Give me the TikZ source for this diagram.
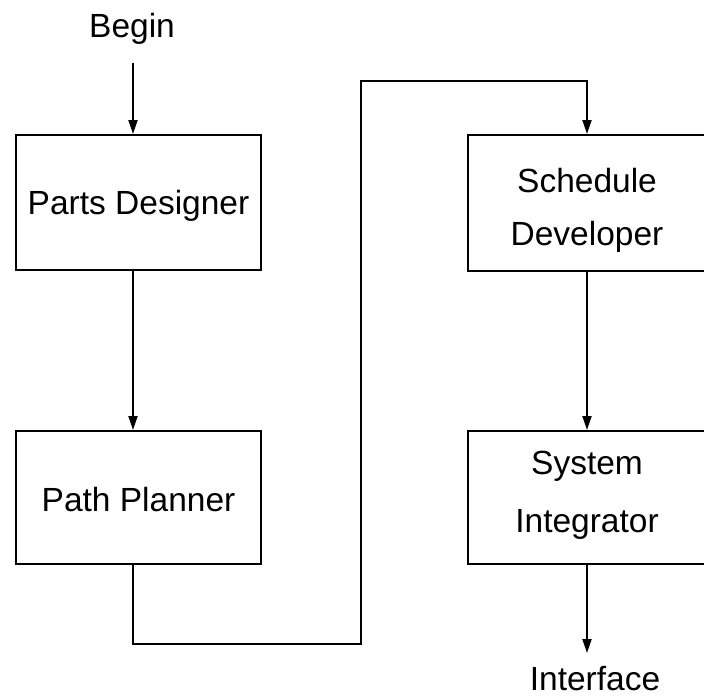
\documentclass[tikz,border=0pt]{standalone}
\usepackage{fontspec}
\setmainfont{Liberation Sans}
\usetikzlibrary{arrows.meta}
\newcommand{\lowr}[2]{\raisebox{#1}[\height][\depth]{#2}}
\begin{document}
\begin{tikzpicture}[x=1pt,y=-1pt,
  font=\fontsize{33.5}{53}\selectfont,
  boxnode/.style={draw,line width=2pt,rectangle,inner sep=0pt},
  conn/.style={line width=2pt},
  arr/.style={conn,-{Triangle[length=14pt,width=9pt]}}]
\useasboundingbox (0,0) rectangle (704,697);
\node[boxnode,minimum width=245pt,minimum height=135pt] (pd) at (138.5,202.5) {\lowr{-3pt}{Parts Designer}};
\node[boxnode,minimum width=245pt,minimum height=133pt] (pp) at (138.5,497.5) {\lowr{-2pt}{Path Planner}};
\node[boxnode,minimum width=238pt,minimum height=136pt] (sd) at (587,203) {\fontsize{33.5}{53}\selectfont\lowr{-5pt}{\begin{tabular}{@{}c@{}}Schedule\\Developer\end{tabular}}};
\node[boxnode,minimum width=238pt,minimum height=133pt] (si) at (587,497.5) {\fontsize{33.5}{58}\selectfont\lowr{6pt}{\begin{tabular}{@{}c@{}}System\\Integrator\end{tabular}}};
\node[anchor=base,inner sep=0pt] (begin) at (132,37) {Begin};
\node[anchor=base,inner sep=0pt] (intf) at (595,690) {Interface};
\coordinate (bs) at (133,63);
\coordinate (ie) at (587,653);
\coordinate (c1) at (133,644);
\coordinate (c2) at (361,644);
\coordinate (c3) at (361,81);
\coordinate (c4) at (587,81);
\draw[arr] (bs) -- (pd.north -| bs);
\draw[arr] (pd.south -| bs) -- (pp.north -| bs);
\draw[arr] (pp.south -| bs) -- (c1) -- (c2) -- (c3) -- (c4) -- (sd.north -| c4);
\draw[arr] (sd.south -| c4) -- (si.north -| c4);
\draw[arr] (si.south -| c4) -- (ie);
\end{tikzpicture}
\end{document}
